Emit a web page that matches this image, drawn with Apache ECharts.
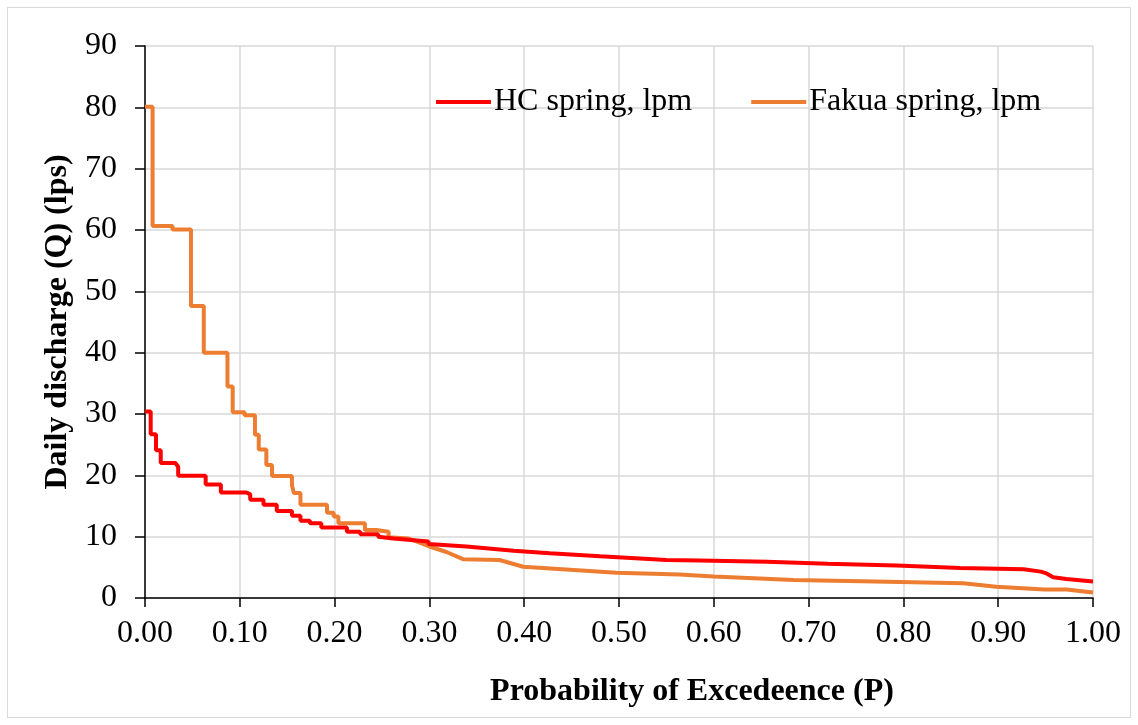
<!DOCTYPE html>
<html><head><meta charset="utf-8">
<script src="https://cdn.jsdelivr.net/npm/echarts@6/dist/echarts.min.js"></script>
<style>
html,body{margin:0;padding:0;background:#fff;}
#frame{position:absolute;left:7px;top:7px;width:1124px;height:711px;border:1px solid #d9d9d9;box-sizing:border-box;}
#c{width:1138px;height:725px;position:absolute;left:0;top:0;}
</style></head>
<body><div id="frame"></div><div id="c"></div>
<script>
const seriesNames = ['HC spring, lpm', 'Fakua spring, lpm'];
const xTicks = [0,0.1,0.2,0.3,0.4,0.5,0.6,0.7,0.8,0.9,1.0];
const yTicks = [0,10,20,30,40,50,60,70,80,90];
// [probability of exceedance, discharge]
const hcSpring = [
 [0,30.4],[0.006,30.4],[0.006,26.7],[0.0116,26.7],[0.0116,24.1],[0.0166,24.1],[0.0166,22.0],
 [0.032,22.0],[0.035,21.4],[0.035,19.95],[0.064,19.95],[0.064,18.5],[0.08,18.5],[0.08,17.2],
 [0.107,17.2],[0.111,16.9],[0.111,16.0],[0.125,16.0],[0.125,15.2],[0.139,15.2],[0.139,14.2],
 [0.155,14.2],[0.155,13.4],[0.164,13.4],[0.164,12.6],[0.174,12.6],[0.174,12.2],[0.186,12.2],
 [0.186,11.5],[0.213,11.5],[0.213,10.8],[0.227,10.8],[0.227,10.4],[0.246,10.4],[0.246,10.0],
 [0.262,9.7],[0.262,9.6],[0.299,9.2],[0.299,8.8],[0.339,8.4],[0.339,8.1],[0.389,7.7],[0.389,7.55],
 [0.427,7.3],[0.48,6.8],[0.48,6.6],[0.55,6.2],[0.585,6.1],[0.656,5.9],[0.656,5.8],[0.72,5.6],
 [0.793,5.3],[0.793,5.1],[0.86,4.9],[0.927,4.7],[0.945,4.3],[0.951,4.0],[0.958,3.4],[0.96,3.1],
 [0.972,3.1],[0.972,2.8],[1.0,2.7]
];
const fakuaSpring = [
 [0,80.1],[0.008,80.1],[0.008,60.65],[0.029,60.65],[0.029,60.1],[0.0485,60.1],[0.0485,47.6],
 [0.062,47.6],[0.062,40.0],[0.087,40.0],[0.087,34.5],[0.0925,34.5],[0.0925,30.3],[0.105,30.3],
 [0.105,29.8],[0.116,29.8],[0.116,26.6],[0.12,26.6],[0.12,24.2],[0.128,24.2],[0.128,21.7],
 [0.134,21.7],[0.134,19.9],[0.155,19.9],[0.155,18.4],[0.157,18.4],[0.157,17.1],[0.164,17.1],
 [0.164,15.2],[0.192,15.2],[0.192,13.9],[0.199,13.9],[0.199,13.3],[0.204,13.3],[0.204,12.2],
 [0.232,12.2],[0.232,11.1],[0.244,11.1],[0.244,10.8],[0.257,10.8],[0.257,9.9],[0.278,9.7],
 [0.30,8.4],[0.318,7.5],[0.336,6.3],[0.374,6.2],[0.399,5.1],[0.44,4.7],[0.497,4.1],[0.564,3.85],
 [0.6,3.5],[0.684,2.95],[0.77,2.7],[0.863,2.4],[0.898,1.85],[0.949,1.4],[0.972,1.4],[1.0,0.9]
];

const chart = echarts.init(document.getElementById('c'));
const serif = '"Liberation Serif","Times New Roman",serif';
chart.setOption({
  animation:false,
  grid:{left:145,right:45,top:46,bottom:127,containLabel:false},
  legend:{
    top:81,left:431,itemGap:59,itemWidth:55,itemHeight:4,
    icon:'rect',
    textStyle:{fontFamily:serif,fontSize:32,color:'#000',padding:[0,0,0,-2]},
    data:seriesNames
  },
  xAxis:{
    type:'value',min:0,max:1,interval:0.1,
    name:'Probability of Excedeence (P)',nameLocation:'middle',nameGap:78,
    nameTextStyle:{fontFamily:serif,fontSize:32,fontWeight:'bold',color:'#000',padding:[0,0,0,146]},
    axisLine:{show:true,lineStyle:{color:'#000',width:1.5}},
    axisTick:{show:true,length:9,inside:false,lineStyle:{color:'#000',width:1.5}},
    axisLabel:{fontFamily:serif,fontSize:32,color:'#000',margin:20,formatter:v=>v.toFixed(2)},
    splitLine:{show:true,lineStyle:{color:'#d9d9d9',width:1.5}}
  },
  yAxis:{
    type:'value',min:0,max:90,interval:10,
    name:'Daily discharge (Q) (lps)',nameLocation:'middle',nameGap:68,nameRotate:90,
    nameTextStyle:{fontFamily:serif,fontSize:32,fontWeight:'bold',color:'#000'},
    axisLine:{show:true,lineStyle:{color:'#000',width:1.5}},
    axisTick:{show:true,length:10,lineStyle:{color:'#000',width:1.5}},
    axisLabel:{fontFamily:serif,fontSize:32,color:'#000',margin:28},
    splitLine:{show:true,lineStyle:{color:'#d9d9d9',width:1.5}}
  },
  series:[
    {name:seriesNames[0],type:'line',data:hcSpring,showSymbol:false,symbol:'none',
     lineStyle:{color:'#ff0000',width:4},itemStyle:{color:'#ff0000'},z:3},
    {name:seriesNames[1],type:'line',data:fakuaSpring,showSymbol:false,symbol:'none',
     lineStyle:{color:'#ed7d31',width:4},itemStyle:{color:'#ed7d31'},z:2}
  ]
});
</script></body></html>
